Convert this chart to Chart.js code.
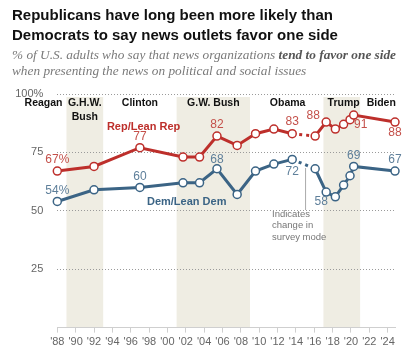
<!DOCTYPE html>
<html><head><meta charset="utf-8">
<script src="https://cdn.jsdelivr.net/npm/chart.js@4/dist/chart.umd.min.js"></script>
<style>
html,body{margin:0;padding:0;background:#fff;width:420px;height:352px;overflow:hidden}
#wrap{position:absolute;left:0;top:0;width:420px;height:352px}
#c{position:absolute;left:0;top:0}
.t{position:absolute;left:12px;top:5px;font:bold 15px "Liberation Sans",Arial,sans-serif;line-height:20px;color:#111;white-space:nowrap}
.s{position:absolute;left:12px;top:47px;font:italic 13.3px "Liberation Serif",serif;line-height:16px;color:#7a7a7a;white-space:nowrap}
.s b{color:#555}
</style></head><body>
<div id="wrap">
<canvas id="c" width="420" height="352"></canvas>
<div class="t">Republicans have long been more likely than<br>Democrats to say news outlets favor one side</div>
<div class="s">% of U.S. adults who say that news organizations <b>tend to favor one side</b><br>when presenting the news on political and social issues</div>
</div>
<script>
// ---- data ----
const years = [1988, 1992, 1997, 2001.7, 2003.5, 2005.4, 2007.6, 2009.6, 2011.6, 2013.6, 2016.1, 2017.3, 2018.3, 2019.2, 2019.9, 2020.3, 2024.8];
const repValues = [67, 69, 77, 73, 73, 82, 78, 83, 85, 83, 82, 88, 85, 87, 89, 91, 88];
const demValues = [54, 59, 60, 62, 62, 68, 57, 67, 70, 72, 68, 58, 56, 61, 65, 69, 67];
const xTickYears = [1988,1990,1992,1994,1996,1998,2000,2002,2004,2006,2008,2010,2012,2014,2016,2018,2020,2022,2024];
const xTickLabels = ["'88","'90","'92","'94","'96","'98","'00","'02","'04","'06","'08","'10","'12","'14","'16","'18","'20","'22","'24"];
const yTickValues = [0, 25, 50, 75, 100];
const yTickLabels = ["", "25", "50", "75", "100%"];
const presidents = ["Reagan", "G.H.W.|Bush", "Clinton", "G.W. Bush", "Obama", "Trump", "Biden"];
const shadedTerms = [[1989, 1993], [2001, 2009], [2017, 2021]];
const modeChangeIndex = 9; // segment 2013 -> 2016 is dotted

// ---- styling / placement (not data) ----
const RED = '#bd2f2b', BLUE = '#3b6485', RED_T = '#c4504a', BLUE_T = '#5e7f9a';
const presX = [1986.5, 1991.0, 1997.0, 2005.0, 2013.1, 2019.2, 2023.3];
const repLabelIdx = {0:[0,-11,'%'], 2:[0,-11,''], 5:[0,-11,''], 9:[0,-12,''], 11:[-13,-6,''], 15:[7,10,''], 16:[0,11,'']};
const demLabelIdx = {0:[0,-11,'%'], 2:[0,-11,''], 5:[0,-9,''], 9:[0,12,''], 11:[-5,10,''], 15:[0,-11,''], 16:[0,-11,'']};

const overlay = {
  id: 'overlay',
  beforeDraw(chart) {
    const {ctx, chartArea, scales: {x, y}} = chart;
    ctx.save();
    ctx.fillStyle = '#efede3';
    shadedTerms.forEach(([a, b]) => {
      const x1 = x.getPixelForValue(a), x2 = x.getPixelForValue(b);
      ctx.fillRect(x1, chartArea.top + 3, x2 - x1, chartArea.bottom - chartArea.top - 3);
    });
    ctx.restore();
  },
  afterDatasetsDraw(chart) {
    const {ctx, scales: {x, y}} = chart;
    ctx.save();
    ctx.fillStyle = '#111';
    ctx.font = 'bold 10.5px "Liberation Sans", Arial, sans-serif';
    ctx.textAlign = 'center'; ctx.textBaseline = 'middle';
    presidents.forEach((p, i) => {
      const parts = p.split('|');
      parts.forEach((s, j) => ctx.fillText(s, x.getPixelForValue(presX[i]), 103 + j * 14));
    });
    ctx.font = 'bold 11px "Liberation Sans", Arial, sans-serif';
    ctx.fillStyle = RED;
    ctx.fillText('Rep/Lean Rep', x.getPixelForValue(1997.4), 127);
    ctx.fillStyle = BLUE;
    ctx.fillText('Dem/Lean Dem', x.getPixelForValue(2002.1), 202);
    ctx.font = '12px "Liberation Sans", Arial, sans-serif';
    const drawLabels = (vals, map, color) => {
      ctx.fillStyle = color;
      Object.keys(map).forEach(k => {
        const i = +k, [dx, dy, suf] = map[k];
        ctx.fillText(vals[i] + suf, x.getPixelForValue(years[i]) + dx, y.getPixelForValue(vals[i]) + dy);
      });
    };
    drawLabels(repValues, repLabelIdx, RED_T);
    drawLabels(demValues, demLabelIdx, BLUE_T);
    const mx = x.getPixelForValue(2015);
    ctx.strokeStyle = '#aaa'; ctx.lineWidth = 1;
    ctx.beginPath(); ctx.moveTo(mx + 0.5, 168); ctx.lineTo(mx + 0.5, 210); ctx.stroke();
    ctx.fillStyle = '#777';
    ctx.font = '9.5px "Liberation Sans", Arial, sans-serif';
    ctx.textAlign = 'left';
    ['Indicates', 'change in', 'survey mode'].forEach((s, j) => ctx.fillText(s, 272, 214 + j * 11.7));
    ctx.restore();
  }
};

const seg = {
  borderDash: c => c.p0DataIndex === modeChangeIndex ? [3, 4] : undefined
};

new Chart(document.getElementById('c'), {
  type: 'line',
  data: {
    datasets: [
      {data: years.map((v, i) => ({x: v, y: repValues[i]})), borderColor: RED, backgroundColor: '#fff',
       borderWidth: 3, pointRadius: 4, pointBorderWidth: 1.5, pointBackgroundColor: '#fff', pointBorderColor: RED, segment: seg, clip: false},
      {data: years.map((v, i) => ({x: v, y: demValues[i]})), borderColor: BLUE, backgroundColor: '#fff',
       borderWidth: 3, pointRadius: 4, pointBorderWidth: 1.5, pointBackgroundColor: '#fff', pointBorderColor: BLUE, segment: seg, clip: false}
    ]
  },
  options: {
    responsive: false, animation: false,
    layout: {padding: {top: 94, right: 25, left: 0, bottom: 0}},
    plugins: {legend: {display: false}, tooltip: {enabled: false}},
    scales: {
      x: {
        type: 'linear', min: 1988, max: 2024.8,
        afterBuildTicks: s => { s.ticks = xTickYears.map(v => ({value: v})); },
        afterFit: s => { s.height = 24.4; },
        ticks: {autoSkip: false, maxRotation: 0, padding: 3, color: '#666',
          font: {size: 11, family: '"Liberation Sans", Arial, sans-serif'},
          callback: v => xTickLabels[xTickYears.indexOf(v)] ?? ''},
        grid: {drawOnChartArea: false, drawTicks: true, tickLength: 5, color: '#cfcfcf'},
        border: {display: true, color: '#cfcfcf'}
      },
      y: {
        min: 0, max: 100,
        afterBuildTicks: s => { s.ticks = yTickValues.map(v => ({value: v})); },
        afterFit: s => { s.width = 57.3; },
        ticks: {padding: 14, color: '#666', font: {size: 11, family: '"Liberation Sans", Arial, sans-serif'},
          callback: v => yTickLabels[yTickValues.indexOf(v)] ?? ''},
        grid: {drawTicks: false, color: c => c.tick && c.tick.value === 0 ? 'rgba(0,0,0,0)' : '#9a9a9a', lineWidth: 1},
        border: {display: false, dash: [1, 2]}
      }
    }
  },
  plugins: [overlay]
});
</script>
</body></html>
